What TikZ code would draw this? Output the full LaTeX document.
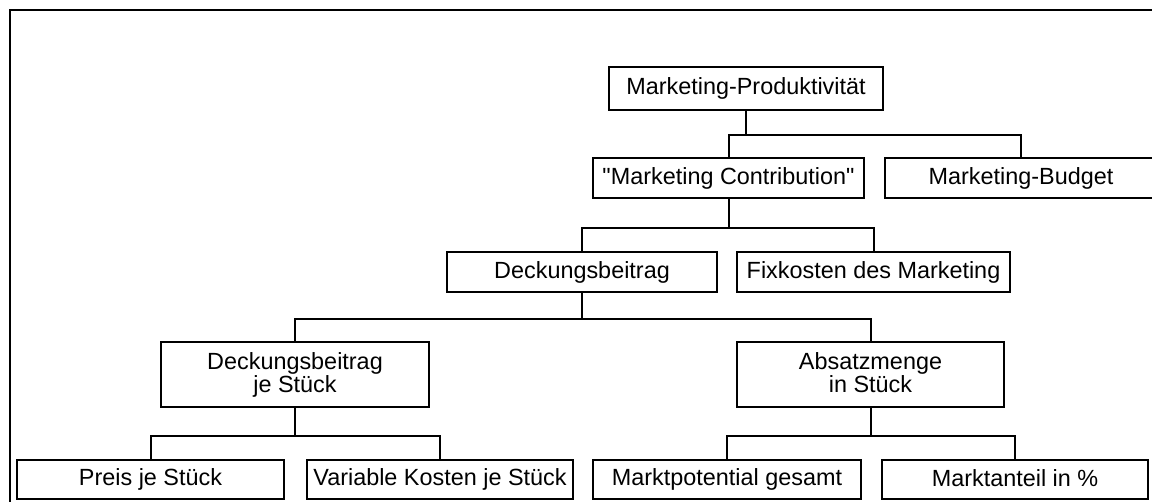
\documentclass[tikz,border=0pt]{standalone}
\usepackage{fontspec}
\setmainfont{Liberation Sans}
% same face without the TeX ligature mapping, for straight double quotes
\newfontfamily\plainquotes{Liberation Sans}
\newcommand\sq{{\plainquotes"}}
% invisible strut so every text line sits on the same baseline
\newcommand\linestrut{\vrule width 0pt height 17.5pt depth 4.5pt}
\begin{document}
\begin{tikzpicture}[x=1pt,y=-1pt,
  box/.style={draw=black, line width=2pt, inner sep=0pt, align=center,
    font=\fontsize{23.4}{23}\selectfont, fill=white},
  link/.style={draw=black, line width=2pt},
  frame/.style={draw=black, line width=2.6pt}]
\useasboundingbox (0,0) rectangle (1152,501);
% outer frame (left and top edges)
\draw[frame] (10,520) -- (10,10) -- (1170,10);

% boxes
\node[box, minimum width=274pt, minimum height=43pt] (mp)  at (746,88.5)   {\linestrut Marketing-Produktivität};
\node[box, minimum width=271pt, minimum height=40pt] (mc)  at (728.5,178)  {\linestrut\sq Marketing Contribution\sq};
\node[box, minimum width=272pt, minimum height=40pt] (mb)  at (1021,178)   {\linestrut Marketing-Budget};
\node[box, minimum width=270pt, minimum height=40pt] (db)  at (582,272)    {\linestrut Deckungsbeitrag};
\node[box, minimum width=273pt, minimum height=40pt] (fk)  at (873.5,272)  {\linestrut Fixkosten des Marketing};
\node[box, minimum width=268pt, minimum height=65pt] (dbs) at (295,374.5)  {\linestrut Deckungsbeitrag\\\linestrut je Stück};
\node[box, minimum width=267pt, minimum height=65pt] (am)  at (870.5,374.5){\linestrut Absatzmenge\\\linestrut in Stück};
\node[box, minimum width=267pt, minimum height=39pt] (pr)  at (150.5,479.5){\linestrut Preis je Stück};
\node[box, minimum width=266pt, minimum height=39pt] (vk)  at (440,479.5)  {\linestrut Variable Kosten je Stück};
\node[box, minimum width=268pt, minimum height=39pt] (mpg) at (727,479.5)  {\linestrut Marktpotential gesamt};
\node[box, minimum width=266pt, minimum height=39pt] (ma)  at (1015,479.5) {\linestrut Marktanteil in \%};

% bus levels of the connectors
\coordinate (b1) at (0,135);
\coordinate (b2) at (0,228);
\coordinate (b3) at (0,319);
\coordinate (b4) at (0,436);

% connectors
\draw[link] (mp.south) -- (mp.south |- b1);
\draw[link] (mc.north) |- (mb.north |- b1) -- (mb.north);

\draw[link] (mc.south) -- (mc.south |- b2);
\draw[link] (db.north) |- (fk.north |- b2) -- (fk.north);

\draw[link] (db.south) -- (db.south |- b3);
\draw[link] (dbs.north) |- (am.north |- b3) -- (am.north);

\draw[link] (dbs.south) -- (dbs.south |- b4);
\draw[link] (pr.north) |- (vk.north |- b4) -- (vk.north);

\draw[link] (am.south) -- (am.south |- b4);
\draw[link] (mpg.north) |- (ma.north |- b4) -- (ma.north);
\end{tikzpicture}
\end{document}
